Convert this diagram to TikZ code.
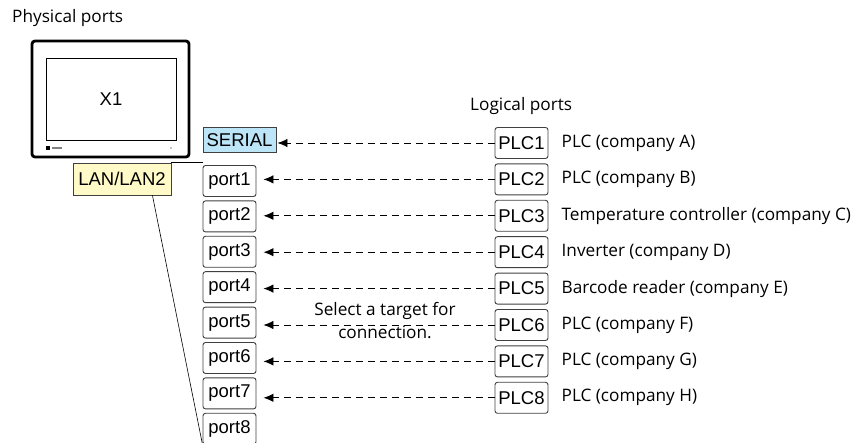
\documentclass[tikz,border=0pt]{standalone}
\usepackage{fontspec}
\setmainfont{Open Sans}
\newfontfamily\boxfont{Liberation Sans}
\usetikzlibrary{arrows.meta}
\definecolor{serialblue}{RGB}{189,229,248}
\definecolor{lanyellow}{RGB}{255,250,200}
\definecolor{boxgray}{RGB}{64,64,64}

\begin{document}
\begin{tikzpicture}[x=1pt,y=-1pt,font=\fontsize{17.2}{23}\selectfont]
    % Setup the styles for the ports
    \tikzset{port style/.style={
        draw=boxgray,
        rounded corners=2.5pt,
        line width=0.9pt,
        minimum width=53pt,
        minimum height=31pt,
        inner sep=0pt,
        font=\boxfont\fontsize{18.5}{18.5}\selectfont},
      plain box/.style={port style, rounded corners=0pt},
      label text/.style={anchor=west, inner sep=0pt},
      link/.style={dash pattern=on 7pt off 5pt, line width=0.9pt,
        -{Latex[length=10pt,width=8.5pt]}}}
    \useasboundingbox (0,0) rectangle (857,443);
    \clip (0,0) rectangle (857,443);

    % Draw the titles
    \node[label text] (phys) at (12,18)  {Physical ports};
    \node[label text] (logi) at (470,106) {Logical ports};

    % Draw the X1 unit
    \draw[line width=2.8pt, rounded corners=3pt] (32,41) rectangle (189,157);
    \node[draw, line width=0.8pt, minimum width=130pt, minimum height=82pt,
          inner sep=0pt, font=\boxfont\fontsize{18.5}{18.5}\selectfont]
        (screen) at (111,99) {X1};
    \fill (46,146) rectangle (50,150);
    \fill[gray] (52,147) rectangle (62,149);
    \fill (171,148) circle (0.6);

    % Draw the physical ports
    \node[plain box, fill=serialblue, minimum width=73pt, minimum height=25pt]
        (serial) at (239.5,140) {SERIAL};
    \node[plain box, fill=lanyellow, minimum width=98pt, minimum height=32pt]
        (lan) at (122,179) {LAN/LAN2};
    \foreach \i in {1,...,8}
        \node[port style] (port\i) at (229.5,{181+35.4*(\i-1)}) {port\i};

    % Draw the logical ports
    \foreach \i/\name in {1/PLC (company A),
                          2/PLC (company B),
                          3/Temperature controller (company C),
                          4/Inverter (company D),
                          5/Barcode reader (company E),
                          6/PLC (company F),
                          7/PLC (company G),
                          8/PLC (company H)}{
        \node[port style] (plc\i) at (521.5,{143+36.4*(\i-1)}) {PLC\i};
        \node[label text] (desc\i) at ([xshift=13pt]plc\i.east) {\name};
    }

    % Connect the ports with arrows
    \draw[link, shorten >=1pt] (plc1.west) -- (plc1.west -| serial.east);
    \foreach \i [count=\j from 2] in {1,...,7}
        \draw[link, shorten >=7pt] (plc\j.west) -- (plc\j.west -| port\i.east);
    \node[align=center] (hint) at (385,321) {Select a target for\\connection.};

    % Bracket for LAN/LAN2
    \draw[line width=0.6pt] (lan.north east) -- (lan.north east -| port1.west);
    \draw[line width=0.6pt] ([xshift=-19pt]lan.south east) -- (port8.south west);
\end{tikzpicture}
\end{document}
